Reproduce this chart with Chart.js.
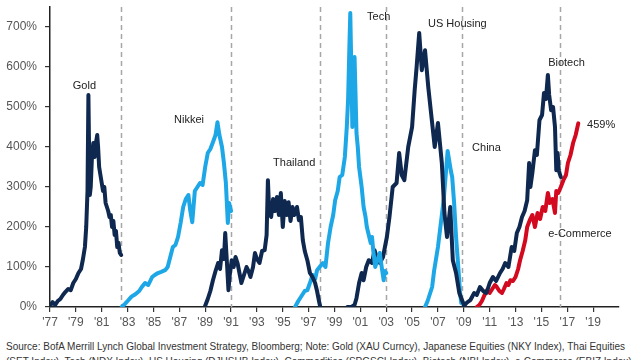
<!DOCTYPE html>
<html><head><meta charset="utf-8">
<script src="https://cdn.jsdelivr.net/npm/chart.js@4/dist/chart.umd.min.js"></script>
<style>
html,body{margin:0;padding:0;background:#fff;}
#wrap{position:relative;width:640px;height:360px;overflow:hidden;background:#fff;}
canvas{position:absolute;left:0;top:0;}
#note{position:absolute;left:6px;top:339px;font:11px "Liberation Sans",Arial,sans-serif;color:#333;white-space:nowrap;line-height:15px;transform-origin:0 0;}
</style></head>
<body><div id="wrap"><canvas id="c" width="640" height="335"></canvas>
<div id="note"><span id="l1">Source: BofA Merrill Lynch Global Investment Strategy, Bloomberg; Note: Gold (XAU Curncy), Japanese Equities (NKY Index), Thai Equities</span><br><span>(SET Index), Tech (NDX Index), US Housing (DJUSHB Index), Commodities (SPGSCI Index), Biotech (NBI Index), e-Commerce (EBIZ Index)</span></div></div>
<script>
// ---- data (years as decimal, values in % gain) ----
const goldYears = [1977.0,1977.2,1977.4,1977.6,1977.8,1978.0,1978.2,1978.4,1978.6,1978.8,1979.0,1979.2,1979.4,1979.55,1979.7,1979.8,1979.9,1979.97,1980.02,1980.08,1980.15,1980.25,1980.35,1980.45,1980.55,1980.65,1980.72,1980.8,1980.9,1981.0,1981.1,1981.2,1981.3,1981.4,1981.5,1981.6,1981.7,1981.8,1981.9,1982.0,1982.1,1982.2,1982.3,1982.4,1982.5];
const goldValues = [3,12,5,15,20,30,38,45,42,60,70,85,95,120,150,200,290,530,400,280,300,380,410,375,410,430,400,350,330,310,290,300,260,250,240,225,230,200,215,180,190,150,160,135,130];

const nikkeiYears = [1982.55,1982.8,1983.0,1983.3,1983.6,1983.9,1984.1,1984.35,1984.6,1984.9,1985.1,1985.35,1985.6,1985.9,1986.1,1986.3,1986.5,1986.7,1986.9,1987.1,1987.3,1987.5,1987.7,1987.85,1988.0,1988.2,1988.4,1988.6,1988.8,1989.0,1989.2,1989.4,1989.6,1989.8,1989.95,1990.1,1990.3,1990.45,1990.6,1990.75,1990.85,1991.0];
const nikkeiValues = [0,8,15,26,32,40,50,60,55,75,80,85,88,92,100,125,150,155,175,210,250,270,280,240,212,290,300,310,305,350,385,395,412,430,462,430,400,360,310,210,260,240];

const thaiYears = [1989.0,1989.2,1989.4,1989.6,1989.8,1990.0,1990.15,1990.3,1990.45,1990.55,1990.7,1990.8,1990.9,1991.05,1991.2,1991.35,1991.5,1991.65,1991.8,1992.0,1992.2,1992.35,1992.5,1992.7,1992.85,1993.0,1993.2,1993.4,1993.6,1993.75,1993.85,1993.95,1994.1,1994.25,1994.4,1994.55,1994.7,1994.85,1995.0,1995.15,1995.3,1995.45,1995.6,1995.75,1995.9,1996.1,1996.25,1996.4,1996.55,1996.7,1996.9,1997.1,1997.3,1997.5,1997.65,1997.8,1997.9];
const thaiValues = [3,20,40,67,90,110,95,142,120,185,100,42,80,117,100,125,110,85,60,80,100,90,75,100,135,120,110,140,142,180,317,240,225,270,240,275,230,285,200,265,230,262,215,250,230,250,217,225,167,140,117,85,75,60,40,15,0];

const techYears = [1995.95,1996.2,1996.5,1996.7,1996.9,1997.1,1997.3,1997.5,1997.65,1997.85,1998.1,1998.3,1998.5,1998.7,1998.9,1999.05,1999.25,1999.4,1999.6,1999.8,1999.95,2000.05,2000.15,2000.22,2000.3,2000.38,2000.45,2000.55,2000.62,2000.7,2000.8,2000.9,2001.0,2001.1,2001.25,2001.4,2001.5,2001.65,2001.8,2001.9,2002.0,2002.15,2002.3,2002.5,2002.65,2002.8,2002.9,2003.0];
const techValues = [0,15,30,40,42,60,80,70,92,100,110,100,160,200,230,267,290,325,330,375,450,517,650,735,600,450,520,625,540,435,400,350,325,300,250,225,200,180,160,175,140,100,115,135,100,67,90,85];

const housingYears = [2000.0,2000.3,2000.55,2000.7,2000.9,2001.1,2001.25,2001.45,2001.65,2001.9,2002.1,2002.3,2002.5,2002.75,2003.05,2003.25,2003.5,2003.8,2004.0,2004.2,2004.4,2004.7,2005.0,2005.2,2005.35,2005.55,2005.75,2006.0,2006.25,2006.5,2006.75,2007.0,2007.3,2007.5,2007.7,2007.95,2008.15,2008.4,2008.65,2008.95];
const housingValues = [0,0,5,22,60,85,67,100,117,110,142,120,110,125,175,225,300,310,385,330,317,400,450,542,600,685,592,642,550,475,400,460,360,235,175,250,117,85,35,10];

const chinaYears = [2006.0,2006.2,2006.4,2006.55,2006.7,2006.85,2007.0,2007.15,2007.3,2007.45,2007.6,2007.75,2007.85,2008.0,2008.1,2008.25,2008.4,2008.55,2008.7,2008.8];
const chinaValues = [0,15,35,50,90,120,150,190,230,270,330,390,370,340,325,260,175,110,40,10];

const biotechYears = [2008.95,2009.2,2009.5,2009.8,2010.0,2010.25,2010.5,2010.75,2011.0,2011.25,2011.5,2011.8,2012.0,2012.2,2012.45,2012.7,2012.9,2013.1,2013.3,2013.5,2013.7,2013.9,2014.05,2014.15,2014.3,2014.5,2014.65,2014.85,2015.05,2015.2,2015.35,2015.5,2015.6,2015.75,2015.9,2016.05,2016.15,2016.25,2016.35,2016.5];
const biotechValues = [0,10,17,35,30,50,40,35,60,75,65,85,95,110,100,150,140,185,200,225,240,267,360,300,335,392,380,467,480,535,520,580,530,492,500,450,342,385,340,325];

const ecomYears = [2010.0,2010.2,2010.4,2010.6,2010.8,2011.0,2011.2,2011.4,2011.55,2011.75,2011.95,2012.1,2012.3,2012.45,2012.6,2012.8,2013.0,2013.2,2013.35,2013.55,2013.75,2013.9,2014.1,2014.3,2014.5,2014.7,2014.9,2015.1,2015.3,2015.5,2015.65,2015.85,2016.05,2016.15,2016.3,2016.5,2016.7,2016.9,2017.05,2017.25,2017.45,2017.65,2017.85];
const ecomValues = [0,5,15,30,42,35,45,55,50,40,35,45,60,55,67,65,75,95,117,140,167,200,217,230,200,235,220,250,240,285,260,270,235,290,285,300,317,330,360,380,410,430,459];

const bubbleEnds = [1982.5,1991.0,1997.85,2003.0,2008.85,2016.45];

const tickYears = [1977,1979,1981,1983,1985,1987,1989,1991,1993,1995,1997,1999,2001,2003,2005,2007,2009,2011,2013,2015,2017,2019];
const yTicks = [0,100,200,300,400,500,600,700];

const labelTexts = ['Gold','Nikkei','Thailand','Tech','US Housing','China','Biotech','459%','e-Commerce'];
const labelYears = [1978.76,1986.59,1994.25,2001.52,2006.23,2009.64,2015.52,2018.53,2015.52];
const labelValues = [552,467,360,725,707,397,610,455,182];

// ---- build ----
const NAVY = '#0e2850', SKY = '#1ea7e6', RED = '#d2091f';
function pts(xs, ys){ return xs.map((x,i)=>({x:x, y:ys[i]})); }
function ds(xs, ys, color){ return {data:pts(xs,ys), borderColor:color, borderWidth:4, pointRadius:0, tension:0, fill:false, borderJoinStyle:'round', borderCapStyle:'round'}; }

const FONT = '"Liberation Sans", Arial, sans-serif';

const overlay = {
  id:'overlay',
  beforeDatasetsDraw(chart){
    const {ctx, chartArea:a, scales:{x}} = chart;
    ctx.save();
    ctx.strokeStyle = '#a6a6a6'; ctx.lineWidth = 1.5; ctx.setLineDash([5,4]);
    bubbleEnds.forEach(v=>{ const px = Math.round(x.getPixelForValue(v))+0.5; ctx.beginPath(); ctx.moveTo(px, a.top); ctx.lineTo(px, a.bottom); ctx.stroke(); });
    ctx.restore();
  },
  afterDraw(chart){
    const {ctx, scales:{x,y}} = chart;
    ctx.save();
    ctx.fillStyle = '#222'; ctx.font = '11px '+FONT; ctx.textAlign='left'; ctx.textBaseline='middle';
    labelTexts.forEach((t,i)=>{ ctx.fillText(t, x.getPixelForValue(labelYears[i]), y.getPixelForValue(labelValues[i])); });
    ctx.restore();
  }
};

new Chart(document.getElementById('c'), {
  type:'line',
  data:{ datasets:[
    ds(goldYears,goldValues,NAVY), ds(nikkeiYears,nikkeiValues,SKY), ds(thaiYears,thaiValues,NAVY),
    ds(techYears,techValues,SKY), ds(housingYears,housingValues,NAVY), ds(chinaYears,chinaValues,SKY),
    ds(biotechYears,biotechValues,NAVY), ds(ecomYears,ecomValues,RED)
  ]},
  options:{
    responsive:false, animation:false, devicePixelRatio:1,
    layout:{padding:{left:0,right:21,top:7,bottom:0}},
    plugins:{legend:{display:false}, tooltip:{enabled:false}},
    scales:{
      x:{ type:'linear', min:1977, max:2021,
        afterBuildTicks(s){ s.ticks = tickYears.map(v=>({value:v})); },
        afterFit(s){ s.height = 28; s.paddingLeft = 0; s.paddingRight = 0; },
        ticks:{ callback:v=>"'"+String(v).slice(2), font:{size:12, family:FONT}, color:'#555', padding:3, maxRotation:0, autoSkip:false },
        grid:{ drawOnChartArea:false, drawTicks:true, tickLength:5, color:'#333', lineWidth:1.2 },
        border:{ display:true, color:'#222', width:1.5 }
      },
      y:{ type:'linear', min:0, max:750,
        afterBuildTicks(s){ s.ticks = yTicks.map(v=>({value:v})); },
        afterFit(s){ s.width = 50; s.paddingTop = 0; s.paddingBottom = 0; },
        ticks:{ callback:v=>v+'%', font:{size:12, family:FONT}, color:'#555', padding:8 },
        grid:{ drawOnChartArea:false, drawTicks:true, tickLength:5, color:'#333', lineWidth:1.2 },
        border:{ display:true, color:'#222', width:1.5 }
      }
    }
  },
  plugins:[overlay]
});

const l1 = document.getElementById('l1');
const w = l1.getBoundingClientRect().width;
document.getElementById('note').style.transform = 'scaleX(' + (619/w) + ')';
</script>
</body></html>
